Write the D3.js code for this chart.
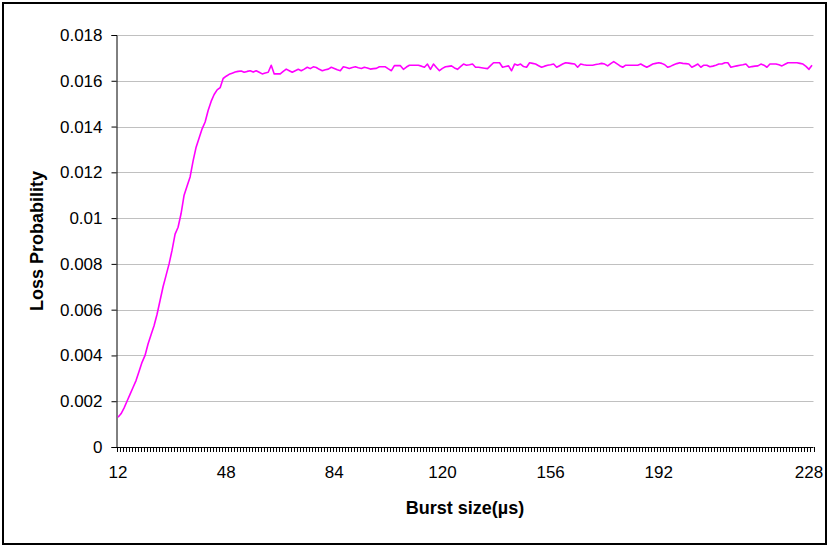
<!DOCTYPE html>
<html>
<head>
<meta charset="utf-8">
<script src="https://cdn.jsdelivr.net/npm/d3@7"></script>
<style>
  body { margin: 0; background: #fff; }
  text { font-family: "Liberation Sans", Arial, sans-serif; }
</style>
</head>
<body>
<div id="chart"></div>
<script>
// Loss probability per burst-size category (one value per category, left to right)
var lossValues = [
  0.00130, 0.00145, 0.00170, 0.00200, 0.00230, 0.00260, 0.00290, 0.00330, 0.00370, 0.00400,
  0.00450, 0.00490, 0.00530, 0.00580, 0.00640, 0.00700, 0.00750, 0.00800, 0.00860, 0.00930,
  0.00960, 0.01020, 0.01100, 0.01140, 0.01180, 0.01250, 0.01310, 0.01350, 0.01390, 0.01420,
  0.01470, 0.01510, 0.01540, 0.01560, 0.01570, 0.01610, 0.01620, 0.01628, 0.01633, 0.01638,
  0.01641, 0.01643, 0.01637, 0.01641, 0.01644, 0.01638, 0.01644, 0.01637, 0.01630, 0.01634,
  0.01637, 0.01668, 0.01630, 0.01630, 0.01630, 0.01641, 0.01651, 0.01644, 0.01637, 0.01644,
  0.01650, 0.01644, 0.01651, 0.01659, 0.01653, 0.01661, 0.01658, 0.01650, 0.01644, 0.01648,
  0.01651, 0.01659, 0.01654, 0.01648, 0.01644, 0.01661, 0.01658, 0.01654, 0.01658, 0.01661,
  0.01657, 0.01654, 0.01659, 0.01656, 0.01651, 0.01653, 0.01654, 0.01661, 0.01661, 0.01661,
  0.01652, 0.01644, 0.01666, 0.01666, 0.01666, 0.01650, 0.01660, 0.01668, 0.01668, 0.01668,
  0.01668, 0.01664, 0.01659, 0.01673, 0.01650, 0.01673, 0.01658, 0.01644, 0.01654, 0.01661,
  0.01663, 0.01665, 0.01656, 0.01650, 0.01662, 0.01673, 0.01668, 0.01670, 0.01673, 0.01659,
  0.01659, 0.01657, 0.01655, 0.01653, 0.01666, 0.01679, 0.01679, 0.01679, 0.01659, 0.01662,
  0.01665, 0.01644, 0.01673, 0.01668, 0.01673, 0.01662, 0.01659, 0.01679, 0.01676, 0.01673,
  0.01666, 0.01659, 0.01664, 0.01668, 0.01670, 0.01673, 0.01659, 0.01666, 0.01673, 0.01679,
  0.01677, 0.01675, 0.01673, 0.01659, 0.01673, 0.01670, 0.01668, 0.01668, 0.01668, 0.01671,
  0.01673, 0.01676, 0.01673, 0.01665, 0.01675, 0.01684, 0.01675, 0.01666, 0.01659, 0.01668,
  0.01668, 0.01668, 0.01668, 0.01668, 0.01673, 0.01666, 0.01659, 0.01666, 0.01673, 0.01676,
  0.01679, 0.01676, 0.01670, 0.01659, 0.01664, 0.01670, 0.01675, 0.01679, 0.01676, 0.01675,
  0.01673, 0.01659, 0.01666, 0.01673, 0.01659, 0.01668, 0.01668, 0.01661, 0.01664, 0.01668,
  0.01673, 0.01673, 0.01679, 0.01679, 0.01659, 0.01662, 0.01665, 0.01668, 0.01670, 0.01673,
  0.01659, 0.01662, 0.01664, 0.01665, 0.01673, 0.01668, 0.01659, 0.01673, 0.01673, 0.01673,
  0.01670, 0.01665, 0.01672, 0.01679, 0.01679, 0.01679, 0.01679, 0.01676, 0.01673, 0.01663,
  0.01650, 0.01668
];

// Category labels shown on the x axis, and the category they sit under
var xTickLabels = ["12", "48", "84", "120", "156", "192", "228"];
var xTickIndex = [0, 36, 72, 108, 144, 180, 230];

// Y axis ticks
var yTicks = [0, 0.002, 0.004, 0.006, 0.008, 0.01, 0.012, 0.014, 0.016, 0.018];

var W = 829, H = 547;
var plot = { left: 116.5, right: 813.5, top: 35, bottom: 447 };

var svg = d3.select("#chart")
    .append("svg")
    .attr("width", W)
    .attr("height", H);

// Frame
svg.append("rect")
    .attr("x", 3).attr("y", 3)
    .attr("width", 823).attr("height", 541)
    .attr("fill", "#fff")
    .attr("stroke", "#000")
    .attr("stroke-width", 2);

var n = lossValues.length;

var x = d3.scaleLinear()
    .domain([-0.5, n - 0.5])
    .range([plot.left, plot.right]);

var y = d3.scaleLinear()
    .domain([0, 0.018])
    .range([plot.bottom, plot.top]);

// Gridlines
svg.append("g")
    .selectAll("line")
    .data(yTicks.filter(function(d) { return d > 0; }))
    .enter().append("line")
    .attr("x1", plot.left).attr("x2", plot.right)
    .attr("y1", function(d) { return Math.round(y(d)) + 0.5; })
    .attr("y2", function(d) { return Math.round(y(d)) + 0.5; })
    .attr("stroke", "#c0c0c0")
    .attr("stroke-width", 1);

// Y axis
var yAxis = svg.append("g")
    .attr("transform", "translate(" + plot.left + ",0)")
    .call(d3.axisLeft(y)
        .tickValues(yTicks)
        .tickSize(5)
        .tickPadding(9)
        .tickFormat(function(d) { return String(+d.toFixed(3)); }));
yAxis.select(".domain").attr("stroke", "#000");
yAxis.selectAll(".tick line").attr("stroke", "#000");
yAxis.selectAll(".tick text")
    .attr("font-size", 17)
    .attr("font-family", "Liberation Sans, Arial, sans-serif")
    .attr("fill", "#000");

// X axis: a tick mark at every category boundary
var xAxis = svg.append("g");
xAxis.append("line")
    .attr("x1", plot.left).attr("x2", plot.right)
    .attr("y1", plot.bottom + 0.5).attr("y2", plot.bottom + 0.5)
    .attr("stroke", "#000");
xAxis.selectAll("line.tick")
    .data(d3.range(n + 1))
    .enter().append("line")
    .attr("class", "tick")
    .attr("x1", function(i) { return Math.round(x(i - 0.5)) + 0.5; })
    .attr("x2", function(i) { return Math.round(x(i - 0.5)) + 0.5; })
    .attr("y1", plot.bottom).attr("y2", plot.bottom + 5)
    .attr("stroke", "#000");
xAxis.selectAll("text")
    .data(xTickLabels)
    .enter().append("text")
    .attr("x", function(d, i) { return x(xTickIndex[i]); })
    .attr("y", plot.bottom + 31)
    .attr("text-anchor", "middle")
    .attr("font-size", 17)
    .text(function(d) { return d; });

// Line
var line = d3.line()
    .x(function(d, i) { return x(i); })
    .y(function(d) { return y(d); });

svg.append("path")
    .datum(lossValues)
    .attr("d", line)
    .attr("fill", "none")
    .attr("stroke", "#ff00ff")
    .attr("stroke-width", 1.6)
    .attr("stroke-linejoin", "round");

// Axis titles
svg.append("text")
    .attr("x", (plot.left + plot.right) / 2)
    .attr("y", 514)
    .attr("text-anchor", "middle")
    .attr("font-size", 18)
    .attr("font-weight", "bold")
    .text("Burst size(\u00b5s)");

svg.append("text")
    .attr("transform", "translate(43," + ((plot.top + plot.bottom) / 2) + ") rotate(-90)")
    .attr("text-anchor", "middle")
    .attr("font-size", 18)
    .attr("font-weight", "bold")
    .text("Loss Probability");
</script>
</body>
</html>
